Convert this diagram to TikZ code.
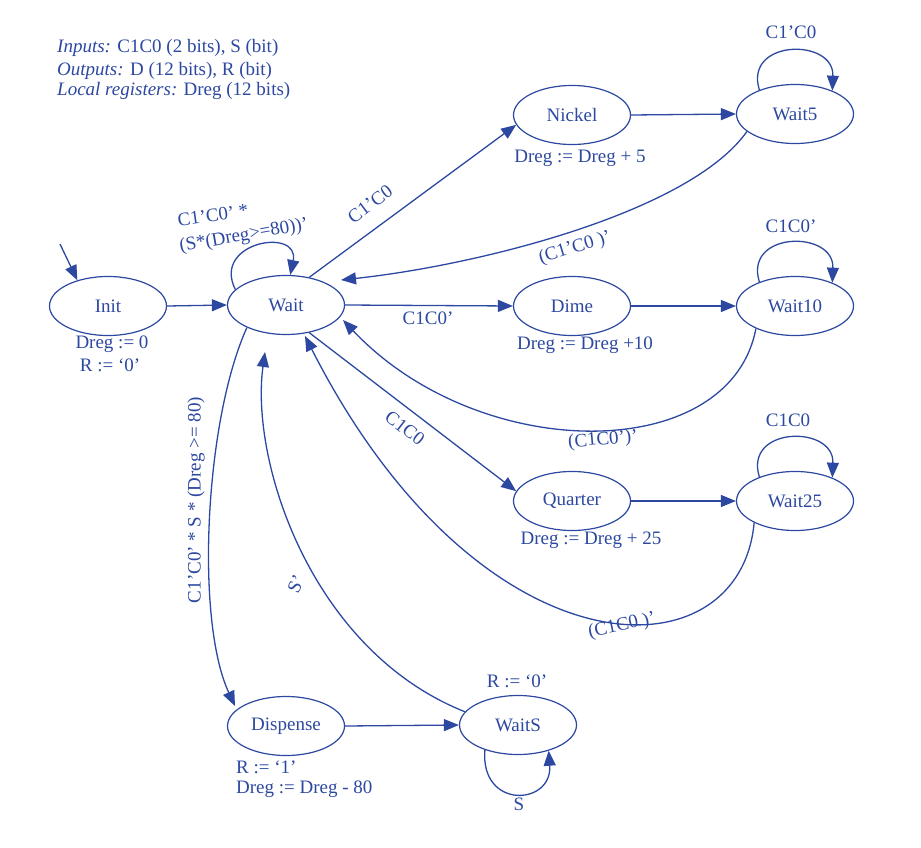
\documentclass[tikz,border=0pt]{standalone}
\usepackage{fontspec}
\setmainfont{Liberation Serif}
\usetikzlibrary{arrows.meta,shapes.geometric,calc}
\definecolor{fsm}{RGB}{44,72,160}
\begin{document}
\begin{tikzpicture}[x=1pt,y=-1pt,
  every node/.style={font=\fontsize{19}{21}\selectfont, text=fsm},
  st/.style={ellipse, draw=fsm, line width=1.2pt, minimum width=117pt, minimum height=59pt, inner sep=0pt},
  tr/.style={draw=fsm, line width=1.3pt, -{Triangle[length=15pt,width=12pt]}},
  lbl/.style={inner sep=1pt}]
\useasboundingbox (0,0) rectangle (921,848);

% header
\node[lbl, anchor=west] (h1) at (56,48) {\textit{Inputs:} C1C0 (2 bits), S (bit)};
\node[lbl, anchor=west] (h2) at (56,71) {\textit{Outputs:} D (12 bits), R (bit)};
\node[lbl, anchor=west] (h3) at (56,91) {\textit{Local registers:} Dreg (12 bits)};

% states
\node[st] (i) at (108,306) {Init};
\node[st] (w) at (286,305) {Wait};
\node[st] (n) at (572,115) {Nickel};
\node[st] (w5) at (795,114) {Wait5};
\node[st] (d) at (572,306) {Dime};
\node[st] (w10) at (795,306) {Wait10};
\node[st] (q) at (572,501) {Quarter};
\node[st] (w25) at (795,501) {Wait25};
\node[st] (dp) at (286,726) {Dispense};
\node[st] (ws) at (518,725) {WaitS};

% actions
\node[lbl] (ia) at (112,344) {Dreg := 0};
\node[lbl] (ib) at (110,365) {R := `0'};
\node[lbl] (na) at (580,158) {Dreg := Dreg + 5};
\node[lbl] (da) at (585,345) {Dreg := Dreg +10};
\node[lbl] (qa) at (591,540) {Dreg := Dreg + 25};
\node[lbl, anchor=west] (dpa) at (235,767) {R := `1'};
\node[lbl, anchor=west] (dpb) at (235,789) {Dreg := Dreg - 80};
\node[lbl] (wsa) at (517,681) {R := `0'};

% initial arrow
\coordinate (start) at (60,244);
\draw[tr] (start) -- (i.140);

% straight transitions
\draw[tr] (i.east) -- (w.west);
\draw[tr] (w.50) -- (n.190);
\draw[tr] (n.east) -- (w5.west);
\draw[tr] (w.east) -- (d.west);
\draw[tr] (d.east) -- (w10.west);
\draw[tr] (w.-50) -- (q.170);
\draw[tr] (q.east) -- (w25.west);
\draw[tr] (dp.east) -- (ws.west);

% self loops
\draw[tr] (w.163) .. controls +(-24,-48) and +(10,-48) .. (w.82);
\draw[tr] (w5.146) .. controls +(-16,-51) and +(2,-53) .. (w5.32);
\draw[tr] (w10.146) .. controls +(-16,-51) and +(2,-53) .. (w10.32);
\draw[tr] (w25.146) .. controls +(-16,-51) and +(2,-53) .. (w25.32);
\draw[tr] (ws.217) .. controls +(-5,60) and +(4,55) .. (ws.-40);

% return curves
\draw[tr] (w5.200) .. controls (690,212) and (480,265) .. ($(w.center)+(55,-25)$);
\draw[tr] (w10.210) .. controls (730,465) and (480,465) .. ($(w.center)+(57,15)$);
\draw[tr] (w25.208) .. controls (740,680) and (480,680) .. ($(w.center)+(19,31)$);
\draw[tr] (w.210) .. controls (205,420) and (195,620) .. ($(dp.center)+(-51,-20)$);
\draw[tr] (ws.166) .. controls (310,650) and (250,460) .. ($(w.center)+(-21,47)$);

% transition labels
\node[lbl, rotate=8] (lw1) at (213,215) {C1'C0' *};
\node[lbl, rotate=10] (lw2) at (244,236) {(S*(Dreg>=80))'};
\node[lbl, rotate=37] (lwn) at (370,204) {C1'C0};
\node[lbl] (lw5) at (791,32) {C1'C0};
\node[lbl, rotate=17] (l5w) at (575,248) {(C1'C0 )'};
\node[lbl] (lwd) at (428,318) {C1C0'};
\node[lbl] (lw10) at (791,226) {C1C0'};
\node[lbl, rotate=5] (l10w) at (603,440) {(C1C0')'};
\node[lbl, rotate=-38] (lwq) at (405,428) {C1C0};
\node[lbl] (lw25) at (788,420) {C1C0};
\node[lbl, rotate=12] (l25w) at (622,626) {(C1C0 )'};
\node[lbl, rotate=90] (lwdp) at (196,500) {C1'C0' * S * (Dreg >= 80)};
\node[lbl, rotate=65] (lsw) at (296,584) {S'};
\node[lbl] (lss) at (519,804) {S};
\end{tikzpicture}
\end{document}
